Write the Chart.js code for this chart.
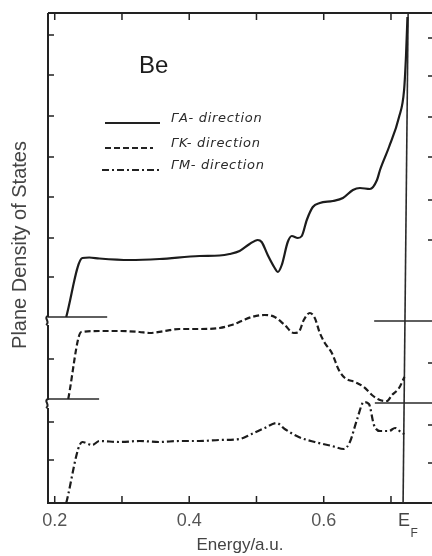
<!DOCTYPE html>
<html>
<head>
<meta charset="utf-8">
<script src="https://cdn.jsdelivr.net/npm/chart.js@4.4.1/dist/chart.umd.min.js"></script>
<style>
  html, body { margin: 0; padding: 0; background: #fff; }
  #wrap { width: 432px; height: 556px; }
</style>
</head>
<body>
<div id="wrap"><canvas id="canvas" width="432" height="556"></canvas></div>
<script>
// energy in a.u., plane DOS in arbitrary units (three curves stacked on a broken axis)
var energyA = [0.2171, 0.2410, 0.2514, 0.2663, 0.3110, 0.3557, 0.4153, 0.4451, 0.4600, 0.4749, 0.4898, 0.5018, 0.5077, 0.5167, 0.5271, 0.5316, 0.5376, 0.5465, 0.5525, 0.5614, 0.5674, 0.5748, 0.5838, 0.5942, 0.6136, 0.6285, 0.6434, 0.6538, 0.6687, 0.6792, 0.6837, 0.6971, 0.7120, 0.7195, 0.7224, 0.7245];
var dosA    = [18.6, 24.5, 24.55, 24.45, 24.3, 24.4, 24.7, 24.75, 24.9, 25.2, 25.9, 26.3, 26.1, 24.8, 23.5, 23.1, 23.8, 26.1, 26.7, 26.5, 26.7, 28.3, 29.6, 30.0, 30.2, 30.5, 31.3, 31.5, 31.4, 32.3, 33.3, 35.6, 38.6, 41.3, 44.8, 48.6];

var energyK = [0.2201, 0.2395, 0.2663, 0.2961, 0.3259, 0.3408, 0.3632, 0.3855, 0.4153, 0.4451, 0.4630, 0.4779, 0.4928, 0.5122, 0.5271, 0.5420, 0.5554, 0.5629, 0.5703, 0.5793, 0.5867, 0.5942, 0.6016, 0.6121, 0.6225, 0.6315, 0.6463, 0.6598, 0.6717, 0.6836, 0.6940, 0.7015, 0.7120, 0.7200];
var dosK    = [10.4, 17.1, 17.2, 17.2, 17.1, 17.0, 17.2, 17.4, 17.4, 17.5, 17.8, 18.2, 18.6, 18.8, 18.6, 17.8, 17.0, 17.1, 18.3, 19.0, 18.5, 17.0, 16.0, 15.0, 13.3, 12.5, 12.1, 11.6, 10.8, 10.3, 10.2, 10.8, 11.5, 12.6];

var energyM = [0.2171, 0.2410, 0.2559, 0.2663, 0.2961, 0.3259, 0.3557, 0.3855, 0.4153, 0.4451, 0.4749, 0.4928, 0.5122, 0.5301, 0.5420, 0.5629, 0.5867, 0.6121, 0.6300, 0.6389, 0.6493, 0.6598, 0.6672, 0.6747, 0.6836, 0.6971, 0.7060, 0.7164, 0.7200];
var dosM    = [0.0, 6.1, 5.8, 6.2, 6.1, 6.2, 6.1, 6.2, 6.2, 6.3, 6.4, 6.9, 7.5, 8.0, 7.4, 6.6, 6.1, 5.7, 5.4, 6.1, 8.3, 10.1, 9.9, 7.8, 7.2, 7.2, 7.5, 7.0, 6.9];

var seriesNames = ['\u0393A- direction', '\u0393K- direction', '\u0393M- direction'];

// axis break baselines: [from, to, level]
var breakLeftA  = [0.19, 0.278, 18.6];
var breakLeftB  = [0.19, 0.266, 10.4];
var breakRightA = [0.675, 0.761, 18.2];
var breakRightB = [0.676, 0.761, 10.0];
var breakMarks  = [18.2, 9.9];

// Fermi level line (scan is slightly tilted)
var fermiBottom = 0.718;
var fermiTop    = 0.7255;

var xMin = 0.19, xMax = 0.761, yMin = 0, yMax = 49;
var xTickLabels = [0.2, 0.4, 0.6];
var xTickMarks  = [0.2, 0.3, 0.4, 0.5, 0.6, 0.7];
var leftTickMarks  = [46.8, 42.8, 38.7, 34.6, 30.6, 26.5, 22.6, 14.4, 8.1, 4.3];
var rightTickMarks = [46.5, 42.7, 38.6, 34.6, 30.3, 26.3, 14.0, 7.8, 4.0];

function pts(xs, ys) {
  var out = [];
  for (var i = 0; i < xs.length; i++) out.push({ x: xs[i], y: ys[i] });
  return out;
}

function curve(data, dash) {
  return {
    data: data, borderColor: '#1c1c1c', borderWidth: 2.2, borderDash: dash,
    pointRadius: 0, fill: false, cubicInterpolationMode: 'monotone'
  };
}

function rule(a, b) {
  return { data: [a, b], borderColor: '#2a2a2a', borderWidth: 1.6, pointRadius: 0, fill: false, tension: 0 };
}

var dashK = [6, 3];
var dashM = [7, 3, 2, 3];

var framePlugin = {
  id: 'frame',
  afterDraw: function (chart) {
    var ctx = chart.ctx, a = chart.chartArea, xs = chart.scales.x, ys = chart.scales.y;
    var L = a.left;
    ctx.save();
    ctx.strokeStyle = '#222';
    ctx.lineWidth = 2;
    ctx.beginPath();
    ctx.moveTo(L, a.top); ctx.lineTo(a.right, a.top);
    ctx.stroke();

    // left frame with break wiggles
    ctx.beginPath();
    ctx.moveTo(L, a.top);
    breakMarks.forEach(function (b) {
      var py = ys.getPixelForValue(b);
      ctx.lineTo(L, py - 5);
      ctx.bezierCurveTo(L - 5, py - 3, L + 3, py + 1, L - 2, py + 4);
      ctx.moveTo(L, py + 4);
    });
    ctx.lineTo(L, a.bottom);
    ctx.stroke();

    ctx.lineWidth = 1.5;
    ctx.beginPath();
    xTickMarks.forEach(function (v) {
      var px = xs.getPixelForValue(v);
      ctx.moveTo(px, a.top); ctx.lineTo(px, a.top + 7);
      ctx.moveTo(px, a.bottom); ctx.lineTo(px, a.bottom - 7);
    });
    leftTickMarks.forEach(function (v) {
      var py = ys.getPixelForValue(v);
      ctx.moveTo(L, py); ctx.lineTo(L + 6, py);
    });
    rightTickMarks.forEach(function (v) {
      var py = ys.getPixelForValue(v);
      ctx.moveTo(a.right - 4, py); ctx.lineTo(a.right, py);
    });
    ctx.stroke();

    // E_F label under the Fermi line
    var fx = xs.getPixelForValue(fermiBottom);
    ctx.fillStyle = '#444';
    ctx.textBaseline = 'middle';
    ctx.textAlign = 'center';
    ctx.font = '18px "Liberation Sans", Arial, sans-serif';
    ctx.fillText('E', fx + 1, a.bottom + 18);
    ctx.font = '12px "Liberation Sans", Arial, sans-serif';
    ctx.fillText('F', fx + 11, a.bottom + 31);

    // element label
    ctx.fillStyle = '#1c1c1c';
    ctx.textAlign = 'left';
    ctx.font = '24px "Liberation Sans", Arial, sans-serif';
    ctx.fillText('Be', 139, 66);

    // y title
    ctx.save();
    ctx.translate(20, 245);
    ctx.rotate(-Math.PI / 2);
    ctx.textAlign = 'center';
    ctx.fillStyle = '#444';
    ctx.font = '20px "Liberation Sans", Arial, sans-serif';
    ctx.fillText('Plane Density of States', 0, 0);
    ctx.restore();

    // legend
    var rows = [[123, [], 105, 160], [148, dashK, 105, 153], [170, dashM, 102, 160]];
    ctx.font = 'italic 13px "DejaVu Sans", sans-serif';
    ctx.letterSpacing = '0.7px';
    ctx.fillStyle = '#2a2a2a';
    ctx.lineWidth = 2;
    rows.forEach(function (r, i) {
      ctx.setLineDash(r[1]);
      ctx.beginPath();
      ctx.moveTo(r[2], r[0]); ctx.lineTo(r[3], r[0]);
      ctx.stroke();
      ctx.setLineDash([]);
      ctx.fillText(seriesNames[i], 171, r[0] - 4);
    });
    ctx.restore();
  }
};

var ctx = document.getElementById('canvas').getContext('2d');
var chart = new Chart(ctx, {
  type: 'line',
  data: {
    datasets: [
      curve(pts(energyA, dosA), []),
      curve(pts(energyK, dosK), dashK),
      curve(pts(energyM, dosM), dashM),
      rule({ x: breakLeftA[0], y: breakLeftA[2] }, { x: breakLeftA[1], y: breakLeftA[2] }),
      rule({ x: breakLeftB[0], y: breakLeftB[2] }, { x: breakLeftB[1], y: breakLeftB[2] }),
      rule({ x: breakRightA[0], y: breakRightA[2] }, { x: breakRightA[1], y: breakRightA[2] }),
      rule({ x: breakRightB[0], y: breakRightB[2] }, { x: breakRightB[1], y: breakRightB[2] }),
      rule({ x: fermiBottom, y: yMin }, { x: fermiTop, y: yMax })
    ]
  },
  options: {
    responsive: false,
    animation: false,
    layout: { padding: { left: 48, top: 13, right: 0, bottom: 0 } },
    plugins: { legend: { display: false }, tooltip: { enabled: false } },
    scales: {
      x: {
        type: 'linear', min: xMin, max: xMax,
        afterBuildTicks: function (s) { s.ticks = xTickLabels.map(function (v) { return { value: v }; }); },
        afterFit: function (s) { s.height = 53; },
        grid: { display: false, drawTicks: false },
        border: { display: true, color: '#222', width: 2 },
        ticks: {
          autoSkip: false, maxRotation: 0, padding: 7, color: '#555',
          font: { size: 18, family: '"Liberation Sans", Arial, sans-serif' },
          callback: function (v) { return v.toFixed(1); }
        },
        title: {
          display: true, text: 'Energy/a.u.', color: '#444',
          font: { size: 17, family: '"Liberation Sans", Arial, sans-serif' },
          padding: { top: 0, bottom: 0 }
        }
      },
      y: { type: 'linear', min: yMin, max: yMax, display: false }
    }
  },
  plugins: [framePlugin]
});
</script>
</body>
</html>
